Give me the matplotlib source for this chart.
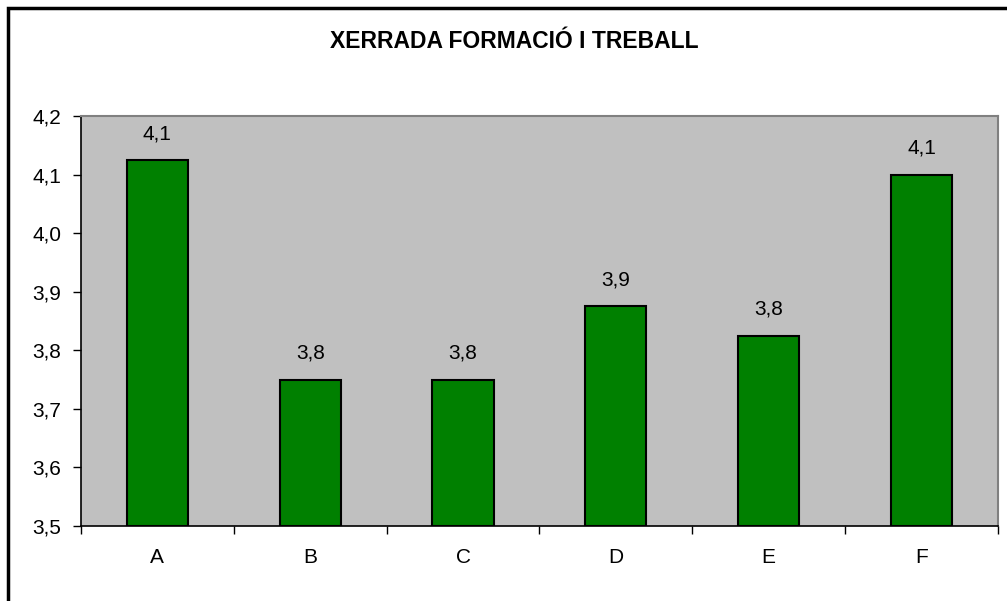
import numpy as np
import matplotlib.pyplot as plt
from matplotlib.ticker import FixedLocator, FuncFormatter

categories = ['A', 'B', 'C', 'D', 'E', 'F']
values = [4.125, 3.75, 3.75, 3.875, 3.825, 4.1]
title = 'XERRADA FORMACIÓ I TREBALL'

plt.rcParams['font.family'] = ['Liberation Sans', 'DejaVu Sans']

fig = plt.figure(figsize=(10.07, 6.01), dpi=100)
ax = fig.add_axes([0.0804, 0.1248, 0.9106, 0.6822])
ax.set_facecolor('#C0C0C0')

x = np.arange(len(categories))
ax.bar(x, [v - 3.5 for v in values], bottom=3.5, width=0.4,
       color='#008000', edgecolor='black', linewidth=1.5, zorder=3)

for xi, v in zip(x, values):
    ax.annotate(f'{v:.1f}'.replace('.', ','), (xi, v), xytext=(0, 12),
                textcoords='offset points', ha='center', va='bottom', fontsize=15)

ax.set_xlim(-0.5, len(categories) - 0.5)
ax.set_ylim(3.5, 4.2)
ax.set_yticks(np.arange(3.5, 4.21, 0.1))
ax.yaxis.set_major_formatter(FuncFormatter(lambda v, p: f'{v:.1f}'.replace('.', ',')))
ax.set_xticks(x)
ax.set_xticklabels(categories)
ax.xaxis.set_minor_locator(FixedLocator(np.arange(-0.5, len(categories), 1.0)))

ax.tick_params(axis='y', labelsize=15, length=6, width=1, pad=8, color='black')
ax.tick_params(axis='x', which='major', labelsize=15, length=0, pad=16)
ax.tick_params(axis='x', which='minor', length=6, width=1)

for s in ['left', 'bottom']:
    ax.spines[s].set_color('black')
    ax.spines[s].set_linewidth(1.2)
for s in ['top', 'right']:
    ax.spines[s].set_color('#808080')
    ax.spines[s].set_linewidth(1.5)

fig.text(0.511, 1 - 41 / 601, title, ha='center', va='center', fontsize=16.5, fontweight='bold')

# chart border
fig.add_artist(plt.Rectangle((8 / 1007, -0.05), 1.1, 1 - 8 / 601 + 0.05,
                             transform=fig.transFigure, fill=False,
                             edgecolor='black', linewidth=2.5))

fig.savefig('out.png', dpi=100)
